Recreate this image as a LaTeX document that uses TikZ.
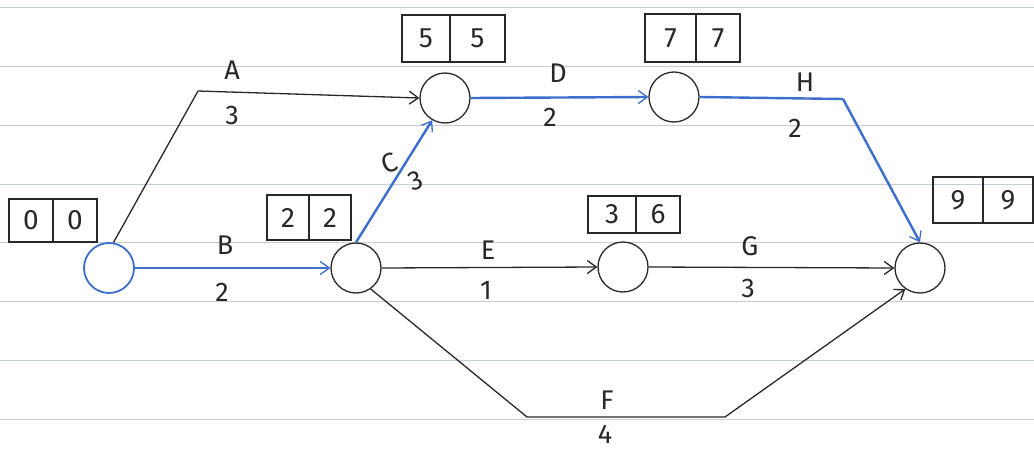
\documentclass[tikz,border=0pt]{standalone}
\usepackage{fontspec}
\setmainfont{Fira Sans}
\usetikzlibrary{arrows.meta}
\definecolor{paperline}{RGB}{198,208,212}
\definecolor{crit}{RGB}{60,110,205}
\definecolor{ink}{RGB}{40,40,40}
\begin{document}
\begin{tikzpicture}[x=1pt,y=-1pt,
  event/.style={circle,draw=ink,line width=1.3pt,minimum size=50pt,inner sep=0pt},
  startevent/.style={event,draw=crit,line width=1.8pt},
  cell/.style={draw=ink,line width=1.5pt,inner sep=0pt,font=\fontsize{28}{32}\selectfont,text=ink},
  lbl/.style={inner sep=0pt,font=\fontsize{27}{31}\selectfont,text=ink},
  act/.style={draw=ink,line width=1.3pt,-{Straight Barb[length=9pt,width=13pt,line width=1.3pt]}},
  critact/.style={draw=crit,line width=2.4pt,-{Straight Barb[length=9pt,width=13pt,line width=1.3pt]}},
  plainact/.style={draw=ink,line width=1.3pt}
]
\useasboundingbox (0,0) rectangle (1034,450);
\fill[white] (0,0) rectangle (1034,450);
\foreach \yy in {7,66,125,184,242,301,360,419}
  \draw[paperline,line width=1pt] (0,\yy) -- (1034,\yy);

% events
\node[startevent] (n1) at (109,268) {};
\node[event] (n2) at (356,268) {};
\node[event] (n3) at (445,98) {};
\node[event] (n4) at (674,97) {};
\node[event] (n5) at (623,267) {};
\node[event] (n6) at (920,268) {};

% time boxes
\node[cell,minimum width=44pt,minimum height=43pt] (b1l) at (31,220.5) {0};
\node[cell,minimum width=44pt,minimum height=43pt] (b1r) at (75,220.5) {0};
\node[cell,minimum width=42pt,minimum height=45pt] (b2l) at (288,217.5) {2};
\node[cell,minimum width=42pt,minimum height=45pt] (b2r) at (330,217.5) {2};
\node[cell,minimum width=48pt,minimum height=47pt] (b3l) at (426,38.5) {5};
\node[cell,minimum width=55pt,minimum height=47pt] (b3r) at (477.5,38.5) {5};
\node[cell,minimum width=51pt,minimum height=48pt] (b4l) at (670.5,38) {7};
\node[cell,minimum width=44pt,minimum height=48pt] (b4r) at (718,38) {7};
\node[cell,minimum width=48pt,minimum height=37pt] (b5l) at (612,214.5) {3};
\node[cell,minimum width=44pt,minimum height=37pt] (b5r) at (658,214.5) {6};
\node[cell,minimum width=50pt,minimum height=46pt] (b6l) at (958,200) {9};
\node[cell,minimum width=50pt,minimum height=46pt] (b6r) at (1008,200) {9};

% bend points
\coordinate (cA) at (198,91);
\coordinate (cH) at (843,99);
\coordinate (cF1) at (527,417);
\coordinate (cF2) at (725,417);

% activities
\draw[plainact] (n1.80) -- (cA);
\draw[act] (cA) -- (n3.west);
\draw[critact] (n1.east) -- (n2.west);
\draw[critact] (n2.north) -- (n3.240);
\draw[critact] (n3.east) -- (n4.west);
\draw[draw=crit,line width=2.4pt] (n4.east) -- (cH);
\draw[critact] (cH) -- (n6.north);
\draw[act] (n2.east) -- (n5.west);
\draw[act] (n5.east) -- (n6.west);
\draw[plainact] (n2.-55) -- (cF1) -- (cF2);
\draw[act] (cF2) -- (n6.235);

% labels
\node[lbl] (lA) at (232,70) {A};
\node[lbl] (dA) at (232,115) {3};
\node[lbl] (lB) at (225,245) {B};
\node[lbl] (dB) at (222,292) {2};
\node[lbl,rotate=20] (lC) at (389,163) {C};
\node[lbl,rotate=20] (dC) at (416,181) {3};
\node[lbl] (lD) at (558,73) {D};
\node[lbl] (dD) at (550,117) {2};
\node[lbl] (lH) at (805,82) {H};
\node[lbl] (dH) at (795,128) {2};
\node[lbl] (lE) at (488,250) {E};
\node[lbl] (dE) at (486,290) {1};
\node[lbl] (lG) at (750,246) {G};
\node[lbl] (dG) at (748,288) {3};
\node[lbl] (lF) at (607,400) {F};
\node[lbl] (dF) at (605,434) {4};
\end{tikzpicture}
\end{document}
